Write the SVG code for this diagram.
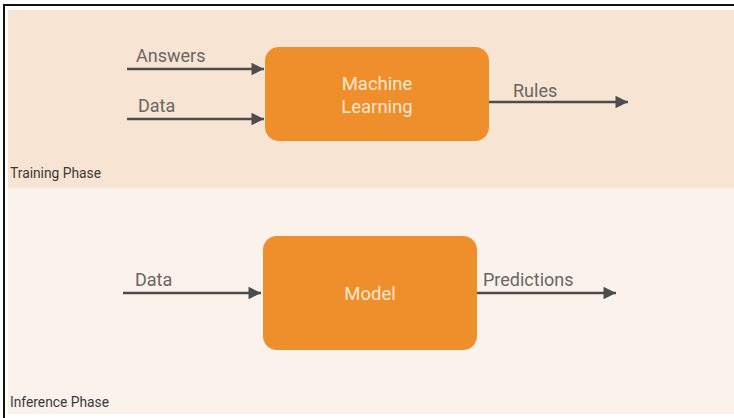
<svg xmlns="http://www.w3.org/2000/svg" width="734" height="418" viewBox="0 0 734 418">
<style>
.lbl{font-family:Roboto,"Liberation Sans",sans-serif;font-size:18px;fill:#6a6663}
.phase{font-family:Roboto,"Liberation Sans",sans-serif;font-size:13.8px;fill:#3a3a3a}
.box{fill:#ee8f2b}
.btxt{font-family:Roboto,"Liberation Sans",sans-serif;font-size:18.5px;fill:#fbe6d0;text-anchor:middle}
.edge{stroke:#4d4d4d;stroke-width:2.5;fill:none;marker-end:url(#ah)}
</style>
<defs>
<marker id="ah" viewBox="0 0 10 10" refX="10" refY="5" markerWidth="5.5" markerHeight="5" orient="auto" markerUnits="strokeWidth">
<path d="M0,0 L10,5 L0,10 z" fill="#4d4d4d"/>
</marker>
</defs>
<rect x="0" y="0" width="734" height="418" fill="#ffffff"/>
<rect x="8" y="10" width="726" height="178" fill="#f8e4d2"/>
<rect x="8" y="188" width="726" height="226" fill="#fbf2eb"/>
<line x1="3" y1="5" x2="734" y2="5" stroke="#111" stroke-width="2"/>
<line x1="4" y1="4" x2="4" y2="418" stroke="#111" stroke-width="2"/>
<g id="training-phase"><text class="phase" x="10" y="178">Training Phase</text></g>
<g id="inference-phase"><text class="phase" x="10" y="407">Inference Phase</text></g>
<g id="machine-learning">
<rect class="box" x="265" y="47" width="224" height="94" rx="14"/>
<text class="btxt" x="377" y="90">Machine</text>
<text class="btxt" x="377" y="113">Learning</text>
</g>
<g id="model">
<rect class="box" x="263" y="236" width="214" height="114" rx="14"/>
<text class="btxt" x="370" y="300">Model</text>
</g>
<g id="connectors">
<line class="edge" x1="127" y1="69" x2="264" y2="69"/>
<line class="edge" x1="127" y1="119" x2="264" y2="119"/>
<line class="edge" x1="489" y1="102" x2="628" y2="102"/>
<line class="edge" x1="123" y1="293" x2="261" y2="293"/>
<line class="edge" x1="477" y1="293" x2="616" y2="293"/>
<text class="lbl" x="136" y="62">Answers</text>
<text class="lbl" x="138" y="112">Data</text>
<text class="lbl" x="513" y="97">Rules</text>
<text class="lbl" x="135" y="286">Data</text>
<text class="lbl" x="483" y="286">Predictions</text>
</g>
</svg>
